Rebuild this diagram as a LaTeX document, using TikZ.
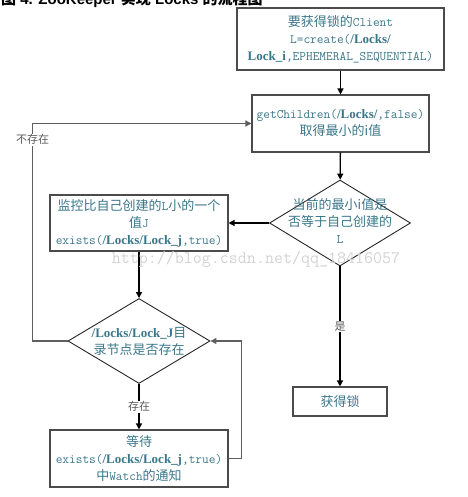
\documentclass[tikz,border=0pt]{standalone}
\usepackage{fontspec}
\setmainfont{Liberation Serif}
\newfontfamily\cjk{Noto Sans CJK SC}
\newfontfamily\titlesans{Liberation Sans}
\usetikzlibrary{arrows.meta, shapes.geometric}
\definecolor{flowtext}{RGB}{58,118,138}
\definecolor{flowframe}{RGB}{75,75,75}
\definecolor{flowline}{RGB}{95,95,95}
\definecolor{flowlabel}{RGB}{90,90,90}
\definecolor{watermark}{RGB}{210,210,210}
\newcommand{\zh}[1]{{\cjk\fontsize{13}{17}\selectfont #1}}
\newcommand{\lockpath}[1]{{\rmfamily\bfseries #1}}

\tikzset{
  stepbox/.style={draw=flowframe, line width=1.1pt, rectangle, inner sep=2pt, align=center,
    text=flowtext, font=\ttfamily\fontsize{13}{17}\selectfont},
  choice/.style={draw=black!85, line width=0.9pt, diamond, inner sep=0pt},
  choicetext/.style={align=center, text=flowtext, inner sep=0pt, font=\ttfamily\fontsize{13}{17}\selectfont},
  flow/.style={black, line width=1.3pt, -{Triangle[length=6pt,width=6pt]}},
  loopback/.style={flowline, line width=1.6pt, -{Triangle[length=6pt,width=6pt]}},
  branch/.style={font=\cjk\fontsize{11}{13}\selectfont, text=flowlabel, fill=white, inner sep=1pt},
}

\begin{document}
\begin{tikzpicture}[x=1pt, y=-1pt]
\useasboundingbox (0,0) rectangle (467,497);
\clip (0,0) rectangle (467,497);

% title, cut by the top edge
\node[anchor=base west, inner sep=0pt, font=\titlesans\bfseries\fontsize{15}{18}\selectfont] (title) at (1,4.5)
  {{\cjk\bfseries 图} 4. ZooKeeper {\cjk\bfseries 实现} Locks {\cjk\bfseries 的流程图}};

% === main column ===
\node[stepbox, minimum width=207, minimum height=62] (client) at (340.5,39)
  {\zh{要获得锁的}Client\\ L=create(\lockpath{/Locks/}\\ \lockpath{Lock\_i},EPHEMERAL\_SEQUENTIAL)};
\node[stepbox, minimum width=177, minimum height=57] (children) at (340.5,123.5)
  {getChildren(\lockpath{/Locks/},false)\\ \zh{取得最小的i值}};
\node[choice, minimum width=141, minimum height=86] (ismin) at (340,223) {};
\node[choicetext] (ismintext) at (340,221)
  {\zh{当前的最小i值是}\\ \zh{否等于自己创建的}\\ L};
\node[stepbox, minimum width=94, minimum height=29] (gotlock) at (340,401.5) {\zh{获得锁}};

% === left column ===
\node[stepbox, minimum width=178, minimum height=56] (watch) at (139,223)
  {\zh{监控比自己创建的}L\zh{小的一个}\\ \zh{值}J\\ exists(\lockpath{/Locks/Lock\_j},true)};
\node[choice, minimum width=142, minimum height=85] (exist) at (139,341) {};
\node[choicetext] (existtext) at (139,341.5)
  {\lockpath{/Locks/Lock\_J}\zh{目}\\ \zh{录节点是否存在}};
\node[stepbox, minimum width=178, minimum height=57] (wait) at (139,458.5)
  {\zh{等待}\\ exists(\lockpath{/Locks/Lock\_j},true)\\ \zh{中}Watch\zh{的通知}};

% connectors
\draw[flow] (client) -- (children);
\draw[flow] (children) -- (ismin);
\draw[flow] (ismin) -- (watch);
\draw[flow] (ismin) -- node[branch] (yeslabel) {是} (gotlock);
\draw[flow] (watch) -- (exist);
\draw[flow] (exist) -- node[branch] (existlabel) {存在} (wait);
\draw[loopback] (wait.east) -- ++(13,0) |- (exist.east);
\draw[loopback] (exist.west) -- ++(-35,0) |- node[branch, pos=0.463] (nolabel) {不存在} (children.west);

% watermark
\node[font=\ttfamily\fontsize{17.5}{20}\selectfont, text=watermark] (mark) at (256,259)
  {http://blog.csdn.net/qq\_18416057};

\end{tikzpicture}
\end{document}
